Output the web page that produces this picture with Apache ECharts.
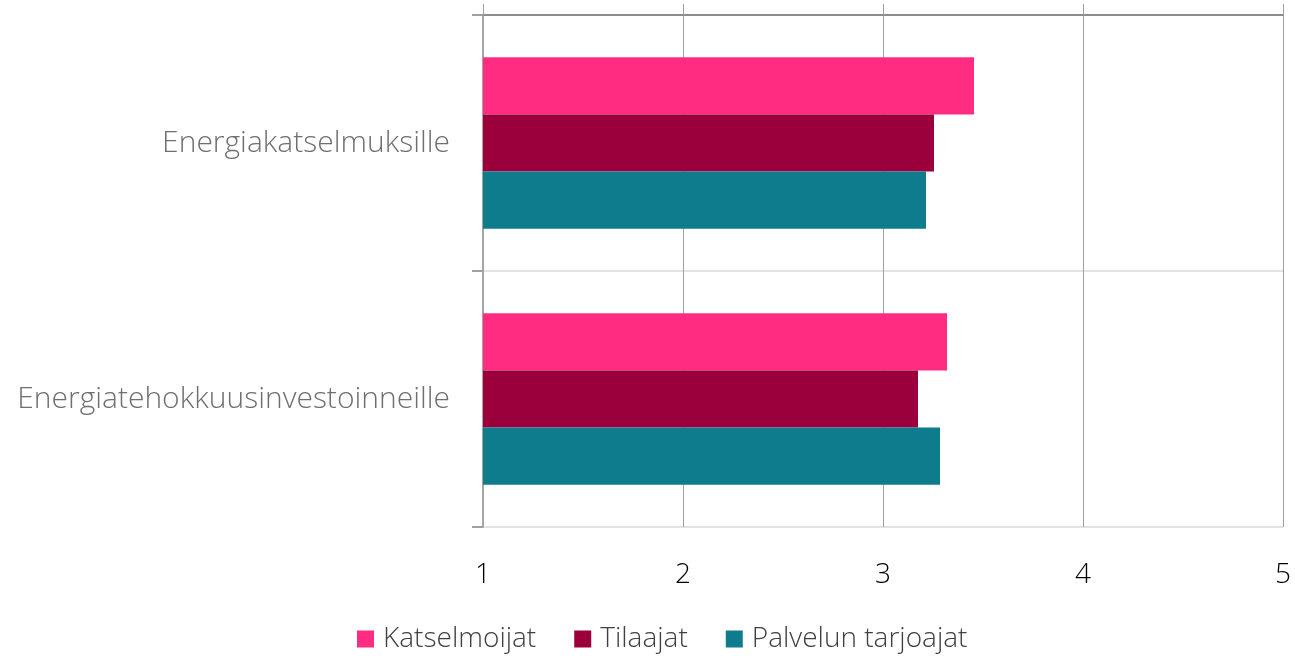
<!DOCTYPE html>
<html>
<head>
<meta charset="utf-8">
<script src="https://cdn.jsdelivr.net/npm/echarts@6/dist/echarts.min.js"></script>
<style>
  html, body { margin: 0; padding: 0; background: #fff; }
  #chart { width: 1295px; height: 656px; }
</style>
</head>
<body>
<div id="chart"></div>
<script>
// kategoriat ylhäältä alas
const categories = ['Energiakatselmuksille', 'Energiatehokkuusinvestoinneille']
const seriesNames = ['Katselmoijat', 'Tilaajat', 'Palvelun tarjoajat']
const katselmoijat = [3.455, 3.32]
const tilaajat = [3.255, 3.175]
const tarjoajat = [3.215, 3.285]
const xTicks = [1, 2, 3, 4, 5]

const colors = ['#FF2C82', '#9B003C', '#0F7C8E']
const font = '"Open Sans", "Noto Sans", sans-serif'

const chart = echarts.init(document.getElementById('chart'))

function barSeries(name, data, color) {
  return {
    name: name,
    type: 'bar',
    data: data,
    barGap: '0%',
    barCategoryGap: '33%',
    itemStyle: { color: color },
    silent: true
  }
}

const option = {
  animation: false,
  textStyle: { fontFamily: font },
  legend: {
    bottom: -2,
    left: 352,
    itemWidth: 17,
    itemHeight: 17,
    itemGap: 38,
    icon: 'rect',
    textStyle: {
      fontSize: 28,
      color: '#404040',
      fontFamily: font,
      fontWeight: 300,
      padding: [0, 0, 0, 4]
    },
    data: seriesNames
  },
  grid: {
    left: 483,
    right: 12,
    top: 15,
    bottom: 129
  },
  xAxis: [
    {
      type: 'value',
      min: xTicks[0],
      max: xTicks[xTicks.length - 1],
      interval: 1,
      axisLine: { show: false },
      axisTick: { show: false },
      splitLine: { show: true, lineStyle: { color: '#a0a0a0', width: 1 } },
      axisLabel: {
        margin: 34,
        fontSize: 28,
        color: '#000',
        fontFamily: font,
        fontWeight: 300
      }
    },
    {
      type: 'value',
      position: 'top',
      min: xTicks[0],
      max: xTicks[xTicks.length - 1],
      interval: 1,
      axisLine: { show: true, lineStyle: { color: '#8c8c8c', width: 2 } },
      axisTick: { show: true, length: 11, lineStyle: { color: '#a0a0a0' } },
      splitLine: { show: false },
      axisLabel: { show: false }
    }
  ],
  yAxis: {
    type: 'category',
    inverse: true,
    data: categories,
    axisLine: { show: true, lineStyle: { color: '#a6a6a6', width: 2 } },
    axisTick: { show: true, length: 11, lineStyle: { color: '#a0a0a0', width: 2 } },
    splitLine: { show: true, lineStyle: { color: '#e3e3e3', width: 2 } },
    axisLabel: {
      margin: 33,
      fontSize: 30,
      color: '#6f6f6f',
      fontFamily: font,
      fontWeight: 300
    }
  },
  series: [
    barSeries(seriesNames[0], katselmoijat, colors[0]),
    barSeries(seriesNames[1], tilaajat, colors[1]),
    barSeries(seriesNames[2], tarjoajat, colors[2])
  ]
}

chart.setOption(option)
window.addEventListener('resize', () => { chart.resize() })
</script>
</body>
</html>
